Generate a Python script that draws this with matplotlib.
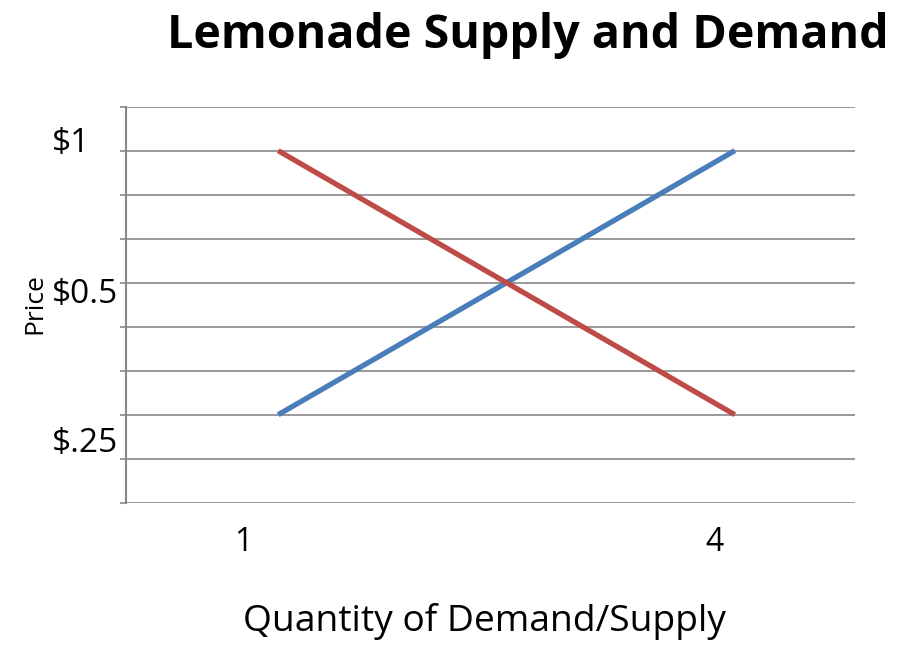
import matplotlib
matplotlib.use("Agg")
import matplotlib.pyplot as plt
import matplotlib.transforms as mtransforms

# ---- data ----
quantity = [1, 4]
supply_level = [2, 8]      # price level (gridline index) for supply
demand_level = [8, 2]      # price level (gridline index) for demand
price_labels = ["$1", "$0.5", "$.25"]
price_label_levels = [7.97, 4.54, 1.15]
qty_tick_labels = ["1", "4"]
title = "Lemonade Supply and Demand"
xlabel = "Quantity of Demand/Supply"
ylabel = "Price"

FONT = "Open Sans"
GRID = "#878787"
W, H = 904, 647

fig = plt.figure(figsize=(W / 100, H / 100), dpi=100)
ax = fig.add_axes([126 / W, 1 - 502.7 / H, (855 - 126) / W, (502.7 - 106.7) / H])

ax.plot(quantity, supply_level, color="#4A7EBB", lw=3.8, solid_capstyle="butt", zorder=3)
ax.plot(quantity, demand_level, color="#BE4B48", lw=3.8, solid_capstyle="butt", zorder=3)

ax.set_xlim(0, 4.79)
ax.set_ylim(0, 9)

# horizontal gridlines
ax.set_yticks(range(0, 10))
ax.yaxis.grid(True, color=GRID, lw=1.2)
ax.set_axisbelow(True)
ax.tick_params(axis="y", length=4, width=1.2, color=GRID, labelleft=False)
for s in ["top", "right", "bottom"]:
    ax.spines[s].set_visible(False)
ax.spines["left"].set_color(GRID)
ax.spines["left"].set_linewidth(1.5)

# x tick labels (shifted as in the original)
ax.set_xticks(quantity)
ax.set_xticklabels(qty_tick_labels, fontsize=23, family=FONT)
ax.tick_params(axis="x", length=0)
for lbl, dx in zip(ax.get_xticklabels(), [-35, -20]):
    lbl.set_verticalalignment("baseline")
    lbl.set_transform(mtransforms.blended_transform_factory(
        ax.transData + mtransforms.Affine2D().translate(dx, 0),
        fig.transFigure))
    lbl.set_position((lbl.get_position()[0], 1 - 551 / H))

# y price labels
ytr = mtransforms.blended_transform_factory(fig.transFigure, ax.transData)
for txt, lev in zip(price_labels, price_label_levels):
    ax.text(52 / W, lev, txt, transform=ytr, ha="left", va="baseline",
            fontsize=24, family=FONT)

fig.text(484 / W, 1 - 631 / H, xlabel, ha="center", va="baseline", fontsize=26.8, family=FONT)
fig.text(41 / W, 1 - 304 / H, ylabel, ha="center", va="baseline", rotation=90,
         rotation_mode="anchor", fontsize=19, family=FONT)
fig.text(528 / W, 1 - 48.3 / H, title, ha="center", va="baseline", fontsize=33.6,
         fontweight="bold", family=FONT)

fig.savefig("out.png", dpi=100, facecolor="white")
